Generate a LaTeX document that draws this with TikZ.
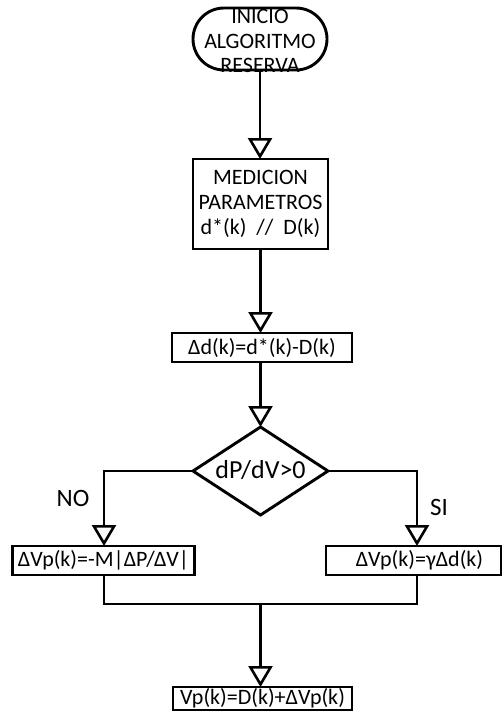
\documentclass[tikz,border=0pt]{standalone}
\usepackage{fontspec}
\setmainfont{Carlito}
\usetikzlibrary{arrows.meta,shapes.geometric}
\begin{document}
\begin{tikzpicture}[x=1pt,y=-1pt,
  every node/.style={inner sep=0pt, outer sep=0pt},
  base/.style={line width=2.9pt, line join=miter},
  txt/.style={font=\fontsize{22}{24.5}\selectfont, align=center},
  boxnode/.style={base, draw, fill=white, txt},
  arr/.style={base, -{Triangle[open, length=21pt, width=24pt, line width=2.6pt]}},
  lbl/.style={font=\fontsize{25}{25}\selectfont}
]
\useasboundingbox (0,0) rectangle (502,717);
% start terminal
\node[boxnode, rounded corners=31pt, minimum width=134pt, minimum height=62pt] (start) at (260,39) {};
\node[txt] (starttxt) at (260,41) {INICIO\\ALGORITMO\\RESERVA};
% measurement box
\node[boxnode, minimum width=135pt, minimum height=90pt, font=\fontsize{22}{25}\selectfont] (meas) at (260.5,204) {MEDICION\\PARAMETROS\\d*(k)\ \ //\ \ D(k)};
% delta d box
\node[boxnode, minimum width=180pt, minimum height=29pt] (dd) at (262,347.5) {Δd(k)=d*(k)-D(k)};
% decision
\node[base, draw, diamond, minimum width=135pt, minimum height=88pt] (dec) at (260.5,471) {};
\node[font=\fontsize{26}{26}\selectfont] (dectxt) at (260.5,470) {dP/dV>0};
% branch boxes
\node[boxnode, minimum width=182pt, minimum height=29pt] (lbox) at (103.5,560.5) {ΔVp(k)=-M|ΔP/ΔV|};
\node[boxnode, minimum width=175pt, minimum height=29pt] (rbox) at (413.5,560.5) {\hspace{12pt}ΔVp(k)=γΔd(k)};
\coordinate (rtop) at (417,546);
\coordinate (rbot) at (417,575);
\coordinate (jl) at (104,604);
\coordinate (jr) at (417,604);
\coordinate (jc) at (260.5,604);
% final box
\node[boxnode, minimum width=179pt, minimum height=23pt] (final) at (262.5,698.5) {Vp(k)=D(k)+ΔVp(k)};
\coordinate (ftop) at (260.5,687);
% labels
\node[lbl] (no) at (73,498) {NO};
\node[lbl] (si) at (439,507) {SI};
% connectors
\draw[arr] (start.south) -- (start.south |- meas.north);
\draw[arr] (meas.south) -- (meas.south |- dd.north);
\draw[arr] (dd.south -| dec.north) -- (dec.north);
\draw[arr] (dec.west) -| (jl |- lbox.north);
\draw[arr] (dec.east) -| (rtop);
\draw[base] (jl |- lbox.south) -- (jl) -- (jr) -- (rbot);
\draw[arr] (jc) -- (ftop);
\end{tikzpicture}
\end{document}
